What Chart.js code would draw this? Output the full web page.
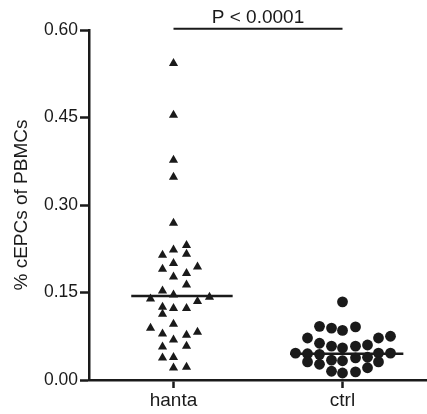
<!DOCTYPE html>
<html>
<head>
<meta charset="utf-8">
<script src="https://cdn.jsdelivr.net/npm/chart.js@4.4.0/dist/chart.umd.min.js"></script>
<style>
  body { margin: 0; background: #fff; }
</style>
</head>
<body>
<canvas id="epcChart" width="427" height="414"></canvas>
<script>
// groups on the x axis (positions 1 and 2)
const groups = ["hanta", "ctrl"];

// hanta: % cEPCs and the horizontal spread of each triangle (axis units from the group centre)
const hantaValues = [0.543, 0.454, 0.377, 0.348, 0.269, 0.231, 0.223, 0.216, 0.214, 0.200,
                     0.194, 0.190, 0.183, 0.177, 0.163, 0.153, 0.146, 0.142, 0.139, 0.135,
                     0.125, 0.123, 0.123, 0.113, 0.096, 0.089, 0.082, 0.079, 0.077, 0.069,
                     0.058, 0.057, 0.039, 0.038, 0.022, 0.021];
const hantaSpread = [0, 0, 0, 0, 0, 0.077, 0, 0.077, -0.065, 0,
                     0.142, -0.065, 0.077, 0, 0.077, -0.065, 0, 0.213, -0.136, 0.142,
                     -0.065, 0, 0.077, -0.065, 0, -0.136, 0.142, -0.065, 0.077, 0,
                     0.077, -0.065, 0, -0.065, 0.077, 0];

// ctrl: % cEPCs and spread
const ctrlValues = [0.134, 0.092, 0.089, 0.085, 0.091, 0.072, 0.072, 0.075,
                    0.063, 0.058, 0.055, 0.058, 0.060,
                    0.046, 0.045, 0.044, 0.046, 0.046,
                    0.031, 0.027, 0.034, 0.033, 0.038, 0.039, 0.031,
                    0.015, 0.012, 0.014, 0.021];
const ctrlSpread = [0, -0.136, -0.065, 0, 0.077, -0.207, 0.213, 0.284,
                    -0.136, -0.065, 0, 0.077, 0.148,
                    -0.278, -0.207, -0.136, 0.213, 0.284,
                    -0.207, -0.136, -0.065, 0, 0.077, 0.148, 0.213,
                    -0.065, 0, 0.077, 0.148];

// medians drawn as horizontal bars
const medians = [0.144, 0.045];
const yTicks = [0, 0.15, 0.30, 0.45, 0.60];
const pLabel = "P < 0.0001";

const ink = "#1a1a1a";
const fontFamily = "'Liberation Sans', Arial, Helvetica, sans-serif";

const toPoints = (center, values, spread) => values.map((v, i) => ({x: center + spread[i], y: v}));

const pTextPlugin = {
  id: "pText",
  afterDraw(chart) {
    const {ctx, scales: {x, y}} = chart;
    ctx.save();
    ctx.font = "19px " + fontFamily;
    ctx.fillStyle = ink;
    ctx.textAlign = "center";
    ctx.textBaseline = "alphabetic";
    ctx.fillText(pLabel, (x.getPixelForValue(1) + x.getPixelForValue(2)) / 2, y.getPixelForValue(0.602) - 6);
    ctx.restore();
  }
};

new Chart(document.getElementById("epcChart"), {
  type: "scatter",
  data: {
    datasets: [
      {
        type: "line",
        data: [{x: 1, y: 0.602}, {x: 2, y: 0.602}],
        borderColor: ink, borderWidth: 2, pointRadius: 0, clip: false
      },
      {
        type: "line",
        data: [{x: 0.75, y: medians[0]}, {x: 1.35, y: medians[0]}],
        borderColor: ink, borderWidth: 2.5, pointRadius: 0
      },
      {
        type: "line",
        data: [{x: 1.69, y: medians[1]}, {x: 2.36, y: medians[1]}],
        borderColor: ink, borderWidth: 2.5, pointRadius: 0
      },
      {
        label: groups[0],
        data: toPoints(1, hantaValues, hantaSpread),
        pointStyle: "triangle", pointRadius: 5.3,
        backgroundColor: ink, borderColor: ink, borderWidth: 0
      },
      {
        label: groups[1],
        data: toPoints(2, ctrlValues, ctrlSpread),
        pointStyle: "circle", pointRadius: 5.4,
        backgroundColor: ink, borderColor: ink, borderWidth: 0
      }
    ]
  },
  options: {
    responsive: false,
    animation: false,
    layout: {autoPadding: false, padding: {top: 30, right: 0, left: 0, bottom: 0}},
    plugins: {legend: {display: false}, tooltip: {enabled: false}},
    scales: {
      x: {
        type: "linear", min: 0.5, max: 2.5,
        afterBuildTicks: (scale) => { scale.ticks = groups.map((g, i) => ({value: i + 1})); },
        afterFit: (scale) => {
          scale.height = 34;
          scale.paddingLeft = 0;
          scale.paddingRight = 0;
        },
        ticks: {
          callback: (v) => groups[v - 1],
          font: {family: fontFamily, size: 19}, color: ink, padding: 1, maxRotation: 0
        },
        grid: {drawOnChartArea: false, drawTicks: true, tickLength: 8, tickWidth: 2.5, tickColor: ink},
        border: {display: true, width: 2.5, color: ink}
      },
      y: {
        min: 0, max: 0.6,
        afterBuildTicks: (scale) => { scale.ticks = yTicks.map(v => ({value: v})); },
        afterFit: (scale) => { scale.width = 89; },
        ticks: {
          callback: (v) => v.toFixed(2),
          font: {family: fontFamily, size: 17.5}, color: ink, padding: 2
        },
        grid: {drawOnChartArea: false, drawTicks: true, tickLength: 9, tickWidth: 2.5, tickColor: ink},
        border: {display: true, width: 2.5, color: ink},
        title: {
          display: true, text: "% cEPCs of PBMCs",
          font: {family: fontFamily, size: 19}, color: ink, padding: {top: 10, bottom: 0}
        }
      }
    }
  },
  plugins: [pTextPlugin]
});
</script>
</body>
</html>
